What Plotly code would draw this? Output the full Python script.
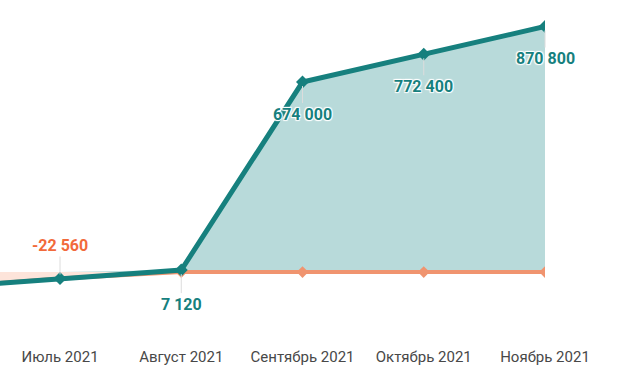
import numpy as np
import plotly.graph_objects as go

months = ["Июнь 2021", "Июль 2021", "Август 2021", "Сентябрь 2021", "Октябрь 2021", "Ноябрь 2021"]
balance = [-55000, -22560, 7120, 674000, 772400, 870800]
negative = [-55000, -22560, 0, 0, 0, 0]

# labels: (month index, series)
label_idx = [1, 2, 3, 4, 5]
label_series = ["neg", "pos", "pos", "pos", "pos"]

TEAL = "#16807e"
TEAL_FILL = "#b8dada"
ORANGE = "#f0946f"
ORANGE_FILL = "#fde4da"
ORANGE_TXT = "#f26a3b"

fig = go.Figure()
fig.add_trace(go.Scatter(x=months, y=np.maximum(balance, 0), mode="none",
                         fill="tozeroy", fillcolor=TEAL_FILL, hoverinfo="skip"))
fig.add_trace(go.Scatter(x=months, y=negative, mode="lines+markers",
                         fill="tozeroy", fillcolor=ORANGE_FILL,
                         line=dict(color=ORANGE, width=4),
                         marker=dict(symbol="diamond", size=9, color=ORANGE)))
fig.add_trace(go.Scatter(x=months, y=balance, mode="lines+markers",
                         line=dict(color=TEAL, width=5),
                         marker=dict(symbol="diamond", size=10, color=TEAL)))

shadow = "1px 1px 1px #fff, -1px -1px 1px #fff, 1px -1px 1px #fff, -1px 1px 1px #fff"
for i, s in zip(label_idx, label_series):
    v = negative[i] if s == "neg" else balance[i]
    txt = f"{v:,}".replace(",", " ")
    up = s == "neg"
    fig.add_annotation(x=months[i], y=v, text=f"<b>{txt}</b>", showarrow=True,
                       arrowhead=0, arrowwidth=1, arrowcolor="#dcdcdc",
                       ax=0, ay=-33 if up else (34 if i == 2 else 32), standoff=4,
                       font=dict(family="Roboto", size=16,
                                 color=ORANGE_TXT if s == "neg" else TEAL,
                                 shadow=shadow))

fig.update_layout(
    width=627, height=382,
    margin=dict(l=0, r=82, t=20, b=36),
    paper_bgcolor="white", plot_bgcolor="white",
    showlegend=False,
    font=dict(family="Roboto", size=15, color="#484848"),
    xaxis=dict(range=[0.505, 5], showgrid=False, zeroline=False, showline=False,
               ticks="", tickfont=dict(size=15, color="#484848")),
    yaxis=dict(range=[-262000, 894000], visible=False, showgrid=False, zeroline=False),
)
fig.write_html("out.html", config={"displayModeBar": False},
               post_script="document.body.style.margin='0';")
